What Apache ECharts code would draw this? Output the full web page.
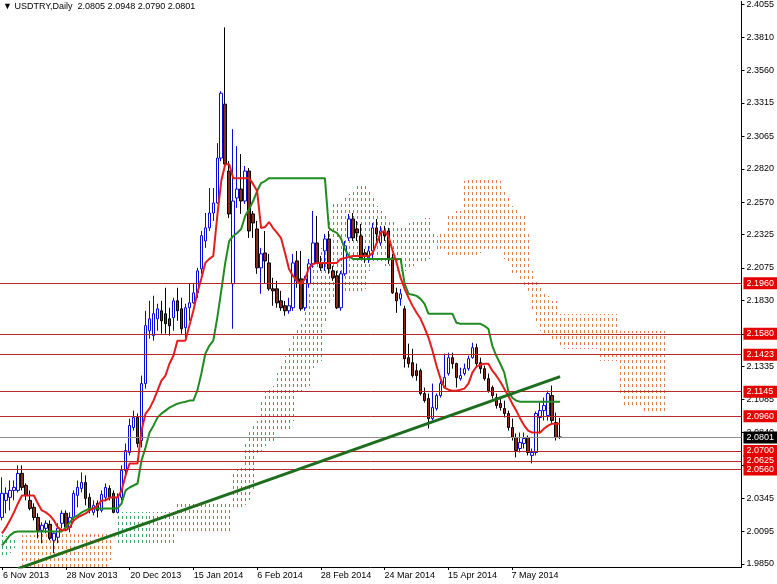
<!DOCTYPE html>
<html><head><meta charset="utf-8">
<script src="https://cdn.jsdelivr.net/npm/echarts@6/dist/echarts.min.js"></script>
<style>html,body{margin:0;padding:0;background:#fff}#c{width:777px;height:584px}</style>
</head><body><div id="c"></div>
<script>
const symbolName = 'USDTRY';
const timeframe = 'Daily';
const holidays = ['2013-12-25', '2014-01-01'];
const barCount = 186;
const xTickLabels = ['6 Nov 2013','28 Nov 2013','20 Dec 2013','15 Jan 2014','6 Feb 2014','28 Feb 2014','24 Mar 2014','15 Apr 2014','7 May 2014'];
const yTickValues = [2.4055,2.3810,2.3560,2.3315,2.3065,2.2820,2.2570,2.2325,2.2075,2.1830,2.1580,2.1335,2.1085,2.0840,2.0590,2.0345,2.0095,1.9850];
const levels = [2.1960, 2.1580, 2.1423, 2.1145, 2.0960, 2.0700, 2.0625, 2.0560];
const bidLevel = 2.0801;
const trendLine = [['12 Nov 2013', 1.9815], ['23 May 2014', 2.1258]];

const openP = [
2.0200,2.0328,2.0351,2.0403,2.0403,2.0531,2.0441,2.0328,2.0276,2.0200,
2.0103,2.0118,2.0148,2.0028,2.0051,2.0156,2.0231,2.0126,2.0200,2.0366,
2.0418,2.0463,2.0351,2.0238,2.0306,2.0253,2.0351,2.0418,2.0381,2.0238,
2.0351,2.0553,2.0688,2.0876,2.0951,2.0778,2.1206,2.1603,2.1566,2.1693,
2.1753,2.1731,2.1693,2.1701,2.1828,2.1768,2.1626,2.1776,2.1813,2.1888,
2.2068,2.2278,2.2376,2.2488,2.2563,2.2901,2.3306,2.2803,2.1956,2.2601,
2.2668,2.2578,2.2803,2.2481,2.2368,2.2076,2.2188,2.2113,2.1918,2.1918,
2.1828,2.1791,2.1753,2.1776,2.2128,2.1993,2.1776,2.1956,2.2106,2.2263,
2.2113,2.2203,2.2293,2.2053,2.2016,2.1776,2.2031,2.2301,2.2443,2.2368,
2.2316,2.2188,2.2151,2.2203,2.2376,2.2263,2.2353,2.2353,2.2151,2.1888,
2.1843,2.1768,2.1401,2.1363,2.1303,2.1303,2.1131,2.1093,2.0943,2.1018,
2.1116,2.1176,2.1281,2.1401,2.1356,2.1243,2.1281,2.1318,2.1401,2.1476,
2.1363,2.1318,2.1243,2.1176,2.1101,2.1056,2.1018,2.0981,2.0876,2.0801,
2.0718,2.0756,2.0801,2.0666,2.0688,2.0951,2.1003,2.0966,2.1116,2.0913,
2.0805];
const highP = [
2.0501,2.0426,2.0478,2.0478,2.0591,2.0591,2.0456,2.0403,2.0306,2.0231,
2.0163,2.0178,2.0178,2.0088,2.0156,2.0253,2.0253,2.0238,2.0403,2.0478,
2.0538,2.0516,2.0381,2.0328,2.0328,2.0403,2.0456,2.0441,2.0403,2.0381,
2.0591,2.0756,2.0943,2.1003,2.0981,2.1266,2.1753,2.1828,2.1866,2.1806,
2.1828,2.1926,2.1776,2.1851,2.1926,2.1851,2.1806,2.1956,2.1956,2.2076,
2.2353,2.2488,2.2676,2.2676,2.3013,2.3403,2.3883,2.2878,2.3118,2.2991,
2.2931,2.2841,2.2826,2.2503,2.2428,2.2226,2.2353,2.2181,2.2001,2.1978,
2.1903,2.1828,2.1851,2.2181,2.2203,2.2203,2.2016,2.2143,2.2503,2.2466,
2.2166,2.2331,2.2353,2.2091,2.2053,2.2053,2.2278,2.2481,2.2488,2.2428,
2.2406,2.2218,2.2241,2.2413,2.2443,2.2391,2.2391,2.2376,2.2181,2.1926,
2.1918,2.1791,2.1506,2.1468,2.1356,2.1318,2.1176,2.1131,2.1206,2.1131,
2.1228,2.1431,2.1438,2.1438,2.1363,2.1326,2.1356,2.1416,2.1513,2.1506,
2.1401,2.1341,2.1281,2.1191,2.1131,2.1093,2.1078,2.1003,2.0943,2.0831,
2.0838,2.0838,2.0816,2.0718,2.0996,2.1063,2.1101,2.1153,2.1191,2.0988,
2.0948];
const lowP = [
2.0178,2.0231,2.0253,2.0328,2.0388,2.0403,2.0328,2.0253,2.0178,2.0043,
2.0006,2.0081,2.0028,1.9931,2.0006,2.0118,2.0103,2.0088,2.0178,2.0276,
2.0388,2.0291,2.0231,2.0216,2.0200,2.0238,2.0328,2.0328,2.0231,2.0231,
2.0328,2.0516,2.0666,2.0853,2.0726,2.0726,2.1168,2.1543,2.1528,2.1603,
2.1581,2.1581,2.1566,2.1603,2.1678,2.1581,2.1528,2.1678,2.1806,2.1851,
2.2031,2.2226,2.2353,2.2428,2.2556,2.2878,2.2826,2.2451,2.1618,2.2526,
2.2481,2.2556,2.2301,2.2301,2.2031,2.1881,2.1956,2.1903,2.1791,2.1776,
2.1753,2.1716,2.1731,2.1753,2.1926,2.1753,2.1753,2.1926,2.2076,2.2106,
2.2053,2.2053,2.2031,2.1978,2.1766,2.1753,2.2016,2.2278,2.2278,2.2278,
2.2143,2.2113,2.2113,2.2143,2.2256,2.2241,2.2278,2.2106,2.1881,2.1738,
2.1791,2.1326,2.1326,2.1251,2.1228,2.1116,2.1063,2.0868,2.0928,2.1003,
2.1101,2.1168,2.1266,2.1318,2.1176,2.1228,2.1266,2.1303,2.1393,2.1326,
2.1281,2.1228,2.1138,2.1093,2.1018,2.1003,2.0951,2.0853,2.0778,2.0651,
2.0688,2.0718,2.0666,2.0606,2.0666,2.0831,2.0928,2.0928,2.0906,2.0778,
2.0790];
const closeP = [
2.0381,2.0381,2.0403,2.0426,2.0531,2.0426,2.0366,2.0268,2.0200,2.0103,
2.0141,2.0156,2.0043,2.0081,2.0118,2.0231,2.0126,2.0200,2.0381,2.0426,
2.0463,2.0343,2.0268,2.0291,2.0253,2.0373,2.0426,2.0351,2.0238,2.0351,
2.0553,2.0703,2.0891,2.0951,2.0756,2.1206,2.1641,2.1693,2.1731,2.1768,
2.1678,2.1656,2.1641,2.1828,2.1753,2.1618,2.1776,2.1813,2.1888,2.2053,
2.2318,2.2376,2.2488,2.2563,2.2901,2.3388,2.2856,2.2481,2.2578,2.2668,
2.2578,2.2803,2.2353,2.2413,2.2076,2.2181,2.2128,2.1918,2.1903,2.1813,
2.1776,2.1753,2.1791,2.2113,2.1978,2.1768,2.1993,2.2106,2.2263,2.2113,
2.2076,2.2293,2.2068,2.2001,2.1776,2.2031,2.2241,2.2443,2.2301,2.2338,
2.2151,2.2166,2.2203,2.2376,2.2331,2.2353,2.2316,2.2151,2.1888,2.1828,
2.1881,2.1393,2.1356,2.1266,2.1266,2.1131,2.1078,2.0943,2.1026,2.1116,
2.1206,2.1251,2.1401,2.1356,2.1251,2.1266,2.1318,2.1393,2.1476,2.1356,
2.1318,2.1243,2.1153,2.1116,2.1041,2.1026,2.0981,2.0876,2.0801,2.0703,
2.0763,2.0793,2.0688,2.0688,2.0981,2.1003,2.1041,2.1131,2.0928,2.0801,
2.0801];
const tenkan = [
2.0080,2.0125,2.0178,2.0238,2.0305,2.0365,2.0365,2.0365,2.0365,2.0305,
2.0253,2.0238,2.0215,2.0178,2.0125,2.0103,2.0103,2.0125,2.0178,2.0200,
2.0215,2.0230,2.0253,2.0268,2.0290,2.0328,2.0328,2.0350,2.0350,2.0350,
2.0403,2.0515,2.0605,2.0605,2.0605,2.0853,2.0980,2.1018,2.1078,2.1153,
2.1228,2.1265,2.1355,2.1415,2.1528,2.1528,2.1528,2.1640,2.1753,2.1888,
2.1993,2.2113,2.2143,2.2165,2.2465,2.2728,2.2855,2.2855,2.2750,2.2750,
2.2750,2.2750,2.2750,2.2705,2.2653,2.2375,2.2383,2.2420,2.2375,2.2338,
2.2300,2.2188,2.2068,2.2015,2.1978,2.1955,2.1993,2.2075,2.2105,2.2113,
2.2113,2.2113,2.2113,2.2113,2.2113,2.2143,2.2150,2.2158,2.2165,2.2165,
2.2165,2.2165,2.2165,2.2188,2.2263,2.2338,2.2353,2.2308,2.2203,2.2113,
2.2000,2.1918,2.1850,2.1790,2.1738,2.1693,2.1625,2.1550,2.1453,2.1340,
2.1243,2.1175,2.1160,2.1153,2.1153,2.1160,2.1168,2.1205,2.1288,2.1333,
2.1348,2.1355,2.1355,2.1303,2.1265,2.1220,2.1168,2.1115,2.1055,2.1003,
2.0943,2.0890,2.0853,2.0838,2.0838,2.0838,2.0868,2.0890,2.0905,2.0905,
2.0905];
const kijun = [
1.9990,2.0028,2.0065,2.0088,2.0095,2.0095,2.0095,2.0095,2.0095,2.0095,
2.0095,2.0095,2.0095,2.0095,2.0095,2.0095,2.0125,2.0163,2.0200,2.0215,
2.0238,2.0253,2.0268,2.0268,2.0268,2.0268,2.0268,2.0268,2.0268,2.0268,
2.0305,2.0403,2.0425,2.0440,2.0455,2.0628,2.0725,2.0838,2.0890,2.0950,
2.0980,2.1003,2.1025,2.1040,2.1055,2.1063,2.1070,2.1078,2.1078,2.1153,
2.1280,2.1430,2.1490,2.1528,2.1700,2.1903,2.2113,2.2278,2.2315,2.2338,
2.2368,2.2465,2.2518,2.2578,2.2653,2.2713,2.2728,2.2750,2.2750,2.2750,
2.2750,2.2750,2.2750,2.2750,2.2750,2.2750,2.2750,2.2750,2.2750,2.2750,
2.2750,2.2750,2.2375,2.2353,2.2338,2.2300,2.2218,2.2165,2.2143,2.2143,
2.2143,2.2143,2.2143,2.2143,2.2143,2.2143,2.2143,2.2143,2.2143,2.2143,
2.2143,2.1955,2.1880,2.1873,2.1865,2.1843,2.1805,2.1730,2.1730,2.1730,
2.1730,2.1730,2.1730,2.1730,2.1663,2.1655,2.1655,2.1655,2.1655,2.1655,
2.1655,2.1640,2.1618,2.1490,2.1415,2.1355,2.1288,2.1153,2.1100,2.1078,
2.1070,2.1070,2.1070,2.1070,2.1070,2.1070,2.1070,2.1070,2.1070,2.1070,
2.1070];
const spanA = [
2.0065,2.0058,2.0050,2.0028,1.9990,1.9803,1.9803,1.9803,1.9803,1.9803,
1.9803,1.9803,1.9803,1.9803,1.9803,1.9803,1.9803,1.9803,1.9803,1.9803,
1.9803,1.9803,1.9803,1.9803,1.9803,1.9803,1.9803,1.9878,2.0028,2.0238,
2.0238,2.0238,2.0238,2.0238,2.0238,2.0238,2.0238,2.0238,2.0238,2.0238,
2.0238,2.0238,2.0238,2.0238,2.0305,2.0305,2.0305,2.0305,2.0305,2.0305,
2.0305,2.0305,2.0305,2.0305,2.0305,2.0305,2.0305,2.0305,2.0530,2.0553,
2.0590,2.0778,2.0853,2.0913,2.0928,2.1078,2.1153,2.1175,2.1190,2.1288,
2.1340,2.1415,2.1490,2.1565,2.1625,2.1678,2.1828,2.1903,2.2090,2.2203,
2.2225,2.2315,2.2428,2.2555,2.2555,2.2578,2.2600,2.2630,2.2653,2.2690,
2.2705,2.2705,2.2653,2.2615,2.2540,2.2503,2.2465,2.2443,2.2428,2.2390,
2.2390,2.2390,2.2413,2.2428,2.2443,2.2443,2.2450,2.2450,2.2353,2.2218,
2.2218,2.2218,2.2165,2.2165,2.2150,2.2150,2.2150,2.2150,2.2165,2.2165,
2.2188,2.2203,2.2203,2.2203,2.2203,2.2203,2.2143,2.2113,2.2038,2.2015,
2.1978,2.1940,2.1903,2.1753,2.1678,2.1603,2.1565,2.1565,2.1543,2.1528,
2.1490,2.1468,2.1468,2.1468,2.1468,2.1468,2.1468,2.1468,2.1468,2.1468,
2.1378,2.1378,2.1378,2.1378,2.1378,2.1115,2.1040,2.1040,2.1040,2.1040,
2.1040,2.0988,2.0988,2.0988,2.0988,2.0988,2.0988];
const spanB = [
1.9915,1.9915,1.9930,1.9968,1.9990,2.0065,2.0065,2.0065,2.0065,2.0065,
2.0088,2.0088,2.0088,2.0088,2.0088,2.0088,2.0088,2.0088,2.0088,2.0088,
2.0088,2.0088,2.0088,2.0088,2.0088,2.0088,2.0088,2.0088,2.0065,1.9990,
1.9990,1.9990,1.9990,1.9990,1.9990,1.9990,1.9990,1.9990,1.9990,1.9990,
1.9990,1.9990,1.9990,1.9990,2.0080,2.0080,2.0080,2.0080,2.0080,2.0080,
2.0080,2.0080,2.0080,2.0080,2.0080,2.0080,2.0080,2.0080,2.0275,2.0275,
2.0275,2.0290,2.0328,2.0403,2.0665,2.0703,2.0740,2.0755,2.0778,2.0853,
2.0853,2.0853,2.0868,2.0928,2.1153,2.1153,2.1168,2.1190,2.1325,2.1340,
2.1378,2.1678,2.1790,2.1843,2.1850,2.1865,2.1880,2.1888,2.1888,2.1903,
2.1903,2.1918,2.2053,2.2113,2.2128,2.2113,2.2090,2.2090,2.2113,2.2053,
2.2053,2.2053,2.2068,2.2090,2.2113,2.2128,2.2128,2.2143,2.2240,2.2315,
2.2330,2.2330,2.2465,2.2488,2.2503,2.2503,2.2728,2.2743,2.2743,2.2743,
2.2743,2.2743,2.2743,2.2743,2.2743,2.2728,2.2653,2.2615,2.2540,2.2518,
2.2488,2.2465,2.2353,2.2053,2.1993,2.1940,2.1903,2.1865,2.1828,2.1828,
2.1730,2.1730,2.1730,2.1730,2.1730,2.1730,2.1730,2.1730,2.1730,2.1730,
2.1730,2.1730,2.1730,2.1730,2.1730,2.1603,2.1603,2.1603,2.1603,2.1603,
2.1603,2.1603,2.1603,2.1603,2.1603,2.1603,2.1603];

// ---- categories: trading days ----
const MONTHS = ['Jan','Feb','Mar','Apr','May','Jun','Jul','Aug','Sep','Oct','Nov','Dec'];
const categories = [];
(function () {
  const d = new Date(Date.UTC(2013, 10, 6));
  while (categories.length < barCount) {
    const wd = d.getUTCDay();
    const iso = d.toISOString().slice(0, 10);
    if (wd !== 0 && wd !== 6 && holidays.indexOf(iso) < 0) {
      categories.push(d.getUTCDate() + ' ' + MONTHS[d.getUTCMonth()] + ' ' + d.getUTCFullYear());
    }
    d.setUTCDate(d.getUTCDate() + 1);
  }
})();

const last = closeP.length - 1;
const header = '\u25BC ' + symbolName + ',' + timeframe + '  ' +
  [openP[last], highP[last], lowP[last], closeP[last]].map(v => v.toFixed(4)).join(' ');

const FONT = 'Liberation Sans';
const showTick = (idx, val) => xTickLabels.indexOf(val) >= 0;

const levelLabel = (bg) => ({
  show: true, position: 'end', distance: 2,
  formatter: p => Number(p.value).toFixed(4),
  color: '#fff', backgroundColor: bg, padding: [2, 4, 1, 3],
  fontSize: 9, fontFamily: FONT
});

const chart = echarts.init(document.getElementById('c'), null, { renderer: 'canvas' });
chart.setOption({
  animation: false,
  backgroundColor: '#fff',
  textStyle: { fontFamily: FONT },
  graphic: [{
    type: 'text', left: 3, top: 2,
    style: { text: header, font: '9px "' + FONT + '"', fill: '#000' }
  }],
  grid: [
    { left: -2, top: 0, width: 744, height: 567, containLabel: false },
    { left: -4, top: 0, width: 744, height: 567, containLabel: false }
  ],
  xAxis: [{
    type: 'category', data: categories, boundaryGap: true, gridIndex: 0,
    axisLine: { show: true, lineStyle: { color: '#000', width: 1 } },
    axisTick: { show: true, interval: showTick, alignWithLabel: true, length: 3, lineStyle: { color: '#000' } },
    axisLabel: { show: false },
    splitLine: { show: false }
  }, {
    type: 'category', data: categories, boundaryGap: true, gridIndex: 1,
    axisLine: { show: false }, axisTick: { show: false },
    axisLabel: { interval: showTick, align: 'left', margin: 4, fontSize: 9, fontFamily: FONT, color: '#000' },
    splitLine: { show: false }
  }],
  yAxis: [{
    type: 'value', position: 'right', min: 1.98275, max: 2.40775, scale: true, gridIndex: 0,
    axisLine: { show: true, lineStyle: { color: '#000', width: 1 } },
    axisTick: { show: true, customValues: yTickValues, length: 3, lineStyle: { color: '#000' } },
    axisLabel: { customValues: yTickValues, formatter: v => v.toFixed(4), margin: 5, fontSize: 9, fontFamily: FONT, color: '#000' },
    splitLine: { show: false }
  }, {
    type: 'value', gridIndex: 1, min: 1.98275, max: 2.40775, show: false
  }],
  series: [
    {
      type: 'custom', name: 'Kumo', z: 1, clip: true,
      data: spanA.map((a, i) => [i, a, spanB[i]]),
      encode: { x: 0, y: [1, 2] },
      renderItem: function (params, api) {
        const i = api.value(0), a = api.value(1), b = api.value(2);
        if (a === b) return null;
        const pa = api.coord([i, a]), pb = api.coord([i, b]);
        const x = Math.round(pa[0]) + 0.5;
        const y1 = Math.round(Math.min(pa[1], pb[1]));
        const y2 = Math.round(Math.max(pa[1], pb[1]));
        return {
          type: 'line', shape: { x1: x, y1: y1, x2: x, y2: y2 },
          style: { stroke: a > b ? '#45a563' : '#e2804f', lineWidth: 1, lineDash: [3, 3], lineDashOffset: y1 % 6 }
        };
      }
    },
    {
      type: 'candlestick', name: symbolName, z: 3, barWidth: 3,
      data: openP.map((o, i) => [o, closeP[i], lowP[i], highP[i]]),
      itemStyle: { color: '#ffffff', color0: '#8b2a1a', borderColor: '#0a0ad8', borderColor0: '#000000', borderWidth: 1 },
      markLine: {
        silent: true, symbol: ['none', 'none'], animation: false, precision: 4,
        data: levels.map(v => ({ yAxis: v, lineStyle: { color: '#b8282a', width: 1, type: 'solid' }, label: levelLabel('#e60000') }))
          .concat([{ yAxis: bidLevel, lineStyle: { color: '#8c8c8c', width: 1, type: 'solid' }, label: levelLabel('#000000') }])
      }
    },
    {
      type: 'line', name: 'Kijun', z: 4, data: kijun, symbol: 'none', showSymbol: false,
      lineStyle: { color: '#218a21', width: 2 }
    },
    {
      type: 'line', name: 'Tenkan', z: 5, data: tenkan, symbol: 'none', showSymbol: false,
      lineStyle: { color: '#e31c1c', width: 2 }
    },
    {
      type: 'line', name: 'Trend', z: 6, data: trendLine, symbol: 'none', showSymbol: false,
      lineStyle: { color: '#1c6e1c', width: 3 }
    }
  ]
});
</script>
</body></html>
